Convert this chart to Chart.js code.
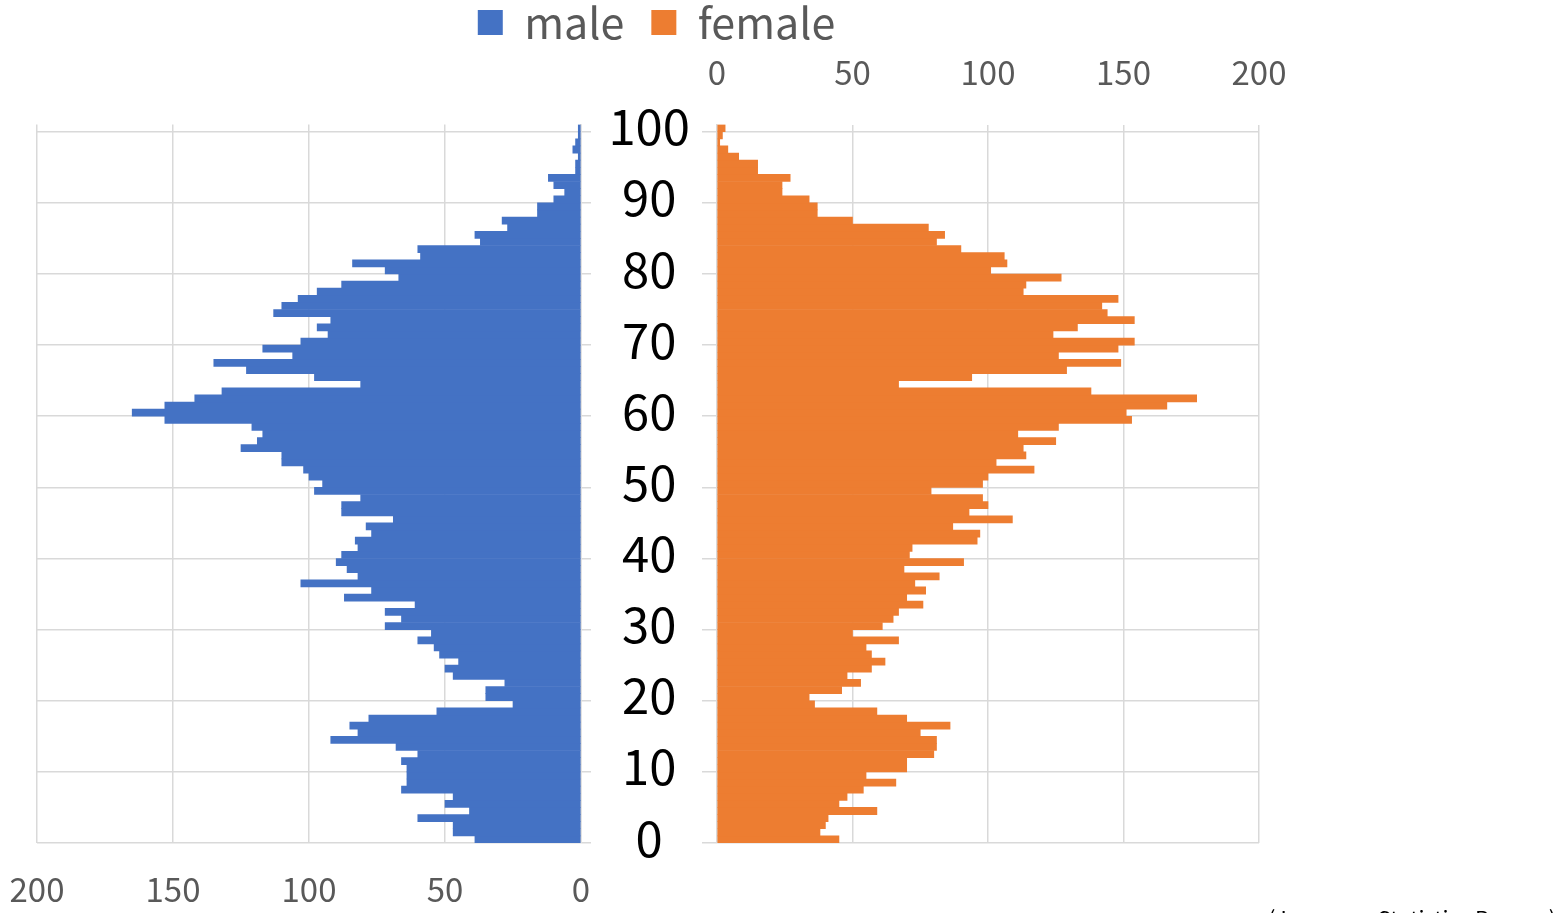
<!DOCTYPE html>
<html>
<head>
<meta charset="utf-8">
<script src="https://cdn.jsdelivr.net/npm/chart.js@4"></script>
<style>
  body { margin: 0; background: #fff; }
  #wrap { position: relative; width: 1561px; height: 913px; overflow: hidden; }
  #wrap canvas { position: absolute; left: 0; top: 0; }
  #source { position: absolute; left: 1268px; top: 901px; font: 22px "Noto Sans CJK JP", sans-serif; color: #000; white-space: nowrap; }
</style>
</head>
<body>
<div id="wrap">
  <canvas id="maleChart" width="1561" height="913"></canvas>
  <canvas id="femaleChart" width="1561" height="913"></canvas>
  <div id="source">(Japanese Statistics Bureau)</div>
</div>
<script>
// age 0 .. 100
const ages = Array.from({ length: 101 }, (_, i) => i);

const male = [
  39, 47, 47, 60, 41, 50, 47, 66, 64, 64,
  64, 66, 60, 68, 92, 82, 85, 78, 53, 25,
  35, 35, 28, 47, 50, 45, 52, 54, 60, 55,
  72, 66, 72, 61, 87, 77, 103, 82, 86, 90,
  88, 82, 83, 77, 79, 69, 88, 88, 81, 98,
  95, 100, 102, 110, 110, 125, 119, 117, 121, 153,
  165, 153, 142, 132, 81, 98, 123, 135, 106, 117,
  103, 93, 97, 92, 113, 110, 104, 97, 88, 67,
  72, 84, 59, 60, 37, 39, 27, 29, 16, 16,
  10, 6, 10, 12, 2, 2, 1, 3, 2, 1,
  1
];

const female = [
  45, 38, 40, 41, 59, 45, 48, 54, 66, 55,
  70, 70, 80, 81, 81, 75, 86, 70, 59, 36,
  34, 46, 53, 48, 57, 62, 57, 55, 67, 50,
  61, 65, 67, 76, 70, 77, 73, 82, 69, 91,
  71, 72, 96, 97, 87, 109, 93, 100, 98, 79,
  98, 100, 117, 103, 114, 113, 125, 111, 126, 153,
  151, 166, 177, 138, 67, 94, 129, 149, 126, 148,
  154, 124, 133, 154, 144, 142, 148, 113, 114, 127,
  101, 107, 106, 90, 81, 84, 78, 50, 37, 37,
  34, 24, 24, 27, 15, 15, 8, 4, 1, 2,
  3
];

const ageTicks = [0, 10, 20, 30, 40, 50, 60, 70, 80, 90, 100];
const valueTicks = [0, 50, 100, 150, 200];

const FONT = "'Noto Sans CJK JP', 'Noto Sans', sans-serif";
const GRID = "#D9D9D9";
const TICK = "#595959";
const PLOT_TOP = 124.6;
const LEGEND_TOP = -26;

// each age bar covers [age, age + 1) on the linear axis
function points(values) {
  return values.map((v, i) => ({ x: v, y: ages[i] + 0.5 }));
}

function setTicks(list) {
  return function (scale) {
    scale.ticks = list.map((v) => ({ value: v }));
  };
}

// left half: male, axis reversed, labels below
new Chart(document.getElementById("maleChart"), {
  type: "bar",
  data: {
    datasets: [
      {
        label: "male",
        data: points(male),
        backgroundColor: "#4472C4",
        barPercentage: 1,
        categoryPercentage: 1,
      },
    ],
  },
  options: {
    indexAxis: "y",
    responsive: false,
    animation: false,
    layout: { padding: { left: 37, right: 970, top: PLOT_TOP, bottom: 0 } },
    scales: {
      x: {
        type: "linear",
        position: "bottom",
        reverse: true,
        min: 0,
        max: 200,
        afterBuildTicks: setTicks(valueTicks),
        afterFit: (s) => { s.height = 70; },
        ticks: { color: TICK, font: { family: FONT, size: 33 }, padding: 27 },
        grid: { color: GRID, lineWidth: 1.5, drawTicks: false },
        border: { display: false },
      },
      y: {
        type: "linear",
        position: "right",
        offset: false,
        min: 0,
        max: 101,
        afterBuildTicks: setTicks(ageTicks),
        afterFit: (s) => { s.width = 10; },
        ticks: { display: false },
        grid: { color: GRID, lineWidth: 1.5, tickLength: 10, offset: false },
        border: { color: GRID, width: 1.5 },
      },
    },
    plugins: {
      legend: { display: false },
      tooltip: { enabled: false },
    },
  },
});

// right half: female, labels on top, age labels in the middle
new Chart(document.getElementById("femaleChart"), {
  type: "bar",
  data: {
    datasets: [
      {
        label: "female",
        data: points(female),
        backgroundColor: "#ED7D31",
        barPercentage: 1,
        categoryPercentage: 1,
      },
    ],
  },
  options: {
    indexAxis: "y",
    responsive: false,
    animation: false,
    layout: { padding: { left: 54, right: 302, top: LEGEND_TOP, bottom: 70 } },
    scales: {
      x: {
        type: "linear",
        position: "top",
        min: 0,
        max: 200,
        afterBuildTicks: setTicks(valueTicks),
        afterFit: (s) => { s.height = PLOT_TOP - LEGEND_TOP - s.chart.legend.height; },
        ticks: { color: TICK, font: { family: FONT, size: 33 }, padding: 32 },
        grid: { color: GRID, lineWidth: 1.5, drawTicks: false },
        border: { display: false },
      },
      y: {
        type: "linear",
        position: "left",
        offset: false,
        min: 0,
        max: 101,
        afterBuildTicks: setTicks(ageTicks),
        afterFit: (s) => { s.width = 717 - 54; },
        ticks: {
          color: "#000",
          font: { family: FONT, size: 49 },
          crossAlign: "center",
          padding: 12,
          labelOffset: -5,
        },
        grid: { color: GRID, lineWidth: 1.5, tickLength: 15, offset: false },
        border: { color: GRID, width: 1.5 },
      },
    },
    plugins: {
      legend: {
        position: "top",
        labels: {
          color: TICK,
          font: { family: FONT, size: 43 },
          boxWidth: 25,
          boxHeight: 25,
          padding: 27,
          generateLabels: () => [
            { text: "male", fillStyle: "#4472C4", strokeStyle: "#4472C4", lineWidth: 0, fontColor: TICK },
            { text: "female", fillStyle: "#ED7D31", strokeStyle: "#ED7D31", lineWidth: 0, fontColor: TICK },
          ],
        },
      },
      tooltip: { enabled: false },
    },
  },
});
</script>
</body>
</html>
